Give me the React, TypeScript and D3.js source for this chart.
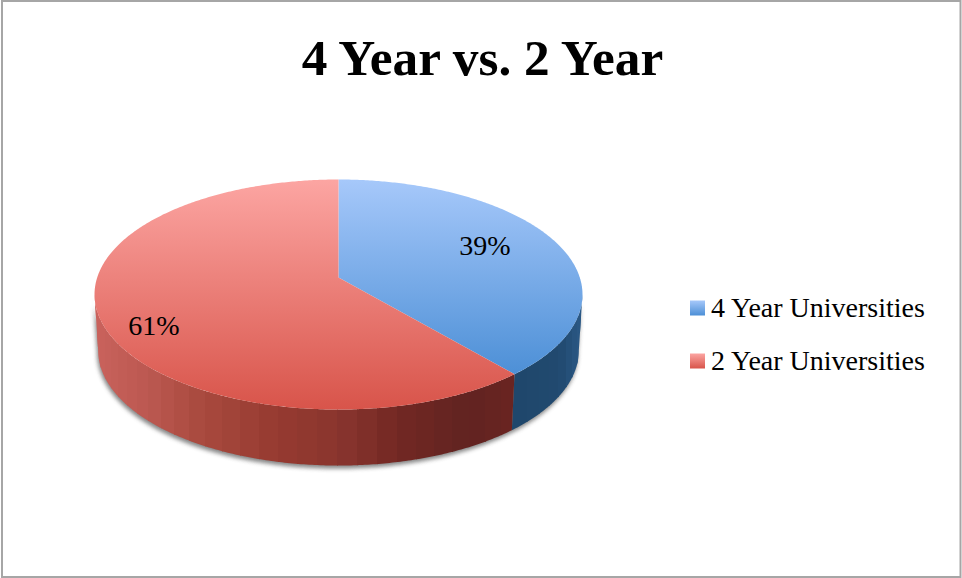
import React from "react";
import * as d3 from "d3";

const categories = ["4 Year Universities", "2 Year Universities"];
const values = [38.8, 61.2];
const labels = ["39%", "61%"];
const title = "4 Year vs. 2 Year";

const topStops = [
  ["#a6c8fa", "#4c8fd6"],
  ["#fca5a2", "#d8544a"],
];
const redWallX = [97, 150, 200, 280, 340, 400, 470, 512];
const redWallC = ["#c9625c", "#bb5850", "#a94a3f", "#953a30", "#89352e", "#722723", "#612321", "#6a2421"];
const blueWallX = [512, 560, 582];
const blueWallC = ["#1f466b", "#214a70", "#2c5a87"];

const W = 962, H = 578;
const CX = 338.5, CY = 277.5, RX = 241.3, RY = 112.5, K = 0.148, DEPTH = 56, BOTTOM_SCALE = 0.985;
const FONT = "'Liberation Serif', serif";

type P = [number, number];
const projectTop = (a: number): P => {
  const u = Math.sin(a), v = -Math.cos(a), w = 1 / (1 - K * v);
  return [CX + RX * u * w, CY + RY * v * w];
};
const projectBottom = (a: number): P => {
  const [x, y] = projectTop(a);
  return [CX + (x - CX) * BOTTOM_SCALE, y + DEPTH];
};
const line = d3.line<P>();
const STEP = 0.07;
const angleSteps = (a0: number, a1: number) => {
  const n = Math.ceil((a1 - a0) / 0.01);
  return d3.range(n + 1).map((i) => a0 + ((a1 - a0) * i) / n);
};
const wallOutline = (a0: number, a1: number): P[] => [
  ...angleSteps(a0, a1).map(projectTop),
  ...angleSteps(a0, a1).reverse().map(projectBottom),
];

export default function App() {
  const arcs = d3.pie<number>().sort(null)(values);
  const redWall = d3.scaleLinear<string>().domain(redWallX).range(redWallC).clamp(true);
  const blueWall = d3.scaleLinear<string>().domain(blueWallX).range(blueWallC).clamp(true);
  const frontStart = Math.PI - Math.acos(K);
  const frontEnd = Math.PI + Math.acos(K);
  const split = arcs[0].endAngle;

  // Vertical shading bands, clipped to each slice's visible wall.
  const bands = (a0: number, a1: number, scale: (x: number) => string) => {
    const n = Math.max(1, Math.round((a1 - a0) / STEP));
    const xs = d3.range(n + 1).map((i) => projectTop(a0 + ((a1 - a0) * i) / n)[0]);
    const lo = d3.min(xs) as number;
    const hi = d3.max(xs) as number;
    return d3.pairs(d3.sort(xs)).map(([x0, x1], i) => ({
      x: i === 0 ? lo - 6 : Math.round(x0),
      w: (i === n - 1 ? hi + 6 : Math.round(x1)) - (i === 0 ? lo - 6 : Math.round(x0)),
      c: scale((x0 + x1) / 2),
    }));
  };
  const walls = [
    { id: "wallBlue", a0: frontStart, a1: split, scale: blueWall },
    { id: "wallRed", a0: split, a1: frontEnd, scale: redWall },
  ];

  const labelPos: P[] = [
    [485, 246],
    [154, 326],
  ];
  const legendY = [308, 361];

  return (
    <svg width={W} height={H} style={{ position: "absolute", left: 0, top: 0 }} fontFamily={FONT}>
      <defs>
        {topStops.map((s, i) => (
          <linearGradient key={i} id={`top${i}`} gradientUnits="userSpaceOnUse" x1={0} x2={0} y1={180} y2={i === 0 ? 376 : 410}>
            <stop offset="0" stopColor={s[0]} />
            <stop offset="1" stopColor={s[1]} />
          </linearGradient>
        ))}
        {topStops.map((s, i) => (
          <linearGradient key={i} id={`leg${i}`} x1={0} x2={0} y1={0} y2={1}>
            <stop offset="0" stopColor={s[0]} />
            <stop offset="1" stopColor={s[1]} />
          </linearGradient>
        ))}
        <filter id="blur" x="-10%" y="-10%" width="120%" height="130%">
          <feGaussianBlur stdDeviation="2" />
        </filter>
        {walls.map((w) => (
          <clipPath key={w.id} id={w.id}>
            <path d={line(wallOutline(w.a0, w.a1)) + "Z"} />
          </clipPath>
        ))}
      </defs>
      <rect x={0} y={0} width={W} height={H} fill="#ffffff" />
      <rect x={2} y={1} width={W - 3.5} height={H - 2} fill="none" stroke="#a6a6a6" strokeWidth={2} />
      <text x={482.5} y={75} textAnchor="middle" fontSize={51.3} fontWeight="bold" fill="#000">
        {title}
      </text>

      <path d={line(wallOutline(frontStart, frontEnd)) + "Z"} fill="#6f6f6f" opacity={0.85} filter="url(#blur)" transform="translate(-1,3)" />
      {walls.map((w) => (
        <g key={w.id} clipPath={`url(#${w.id})`}>
          {bands(w.a0, w.a1, w.scale).map((b, i) => (
            <rect key={i} x={b.x} y={270} width={b.w + 0.5} height={210} fill={b.c} shapeRendering="crispEdges" />
          ))}
        </g>
      ))}
      {arcs.map((a, i) => {
        const pts: P[] = [[CX, CY], ...angleSteps(a.startAngle, a.endAngle).map(projectTop)];
        return <path key={i} d={line(pts) + "Z"} fill={`url(#top${i})`} />;
      })}
      {labels.map((t, i) => (
        <text key={t} x={labelPos[i][0]} y={labelPos[i][1] + 9} textAnchor="middle" fontSize={28} fill="#000">
          {t}
        </text>
      ))}
      {categories.map((c, i) => (
        <g key={c}>
          <rect x={690} y={legendY[i] - 7.5} width={15} height={15} fill={`url(#leg${i})`} />
          <text x={711} y={legendY[i] + 9} fontSize={28} fill="#000">
            {c}
          </text>
        </g>
      ))}
    </svg>
  );
}
